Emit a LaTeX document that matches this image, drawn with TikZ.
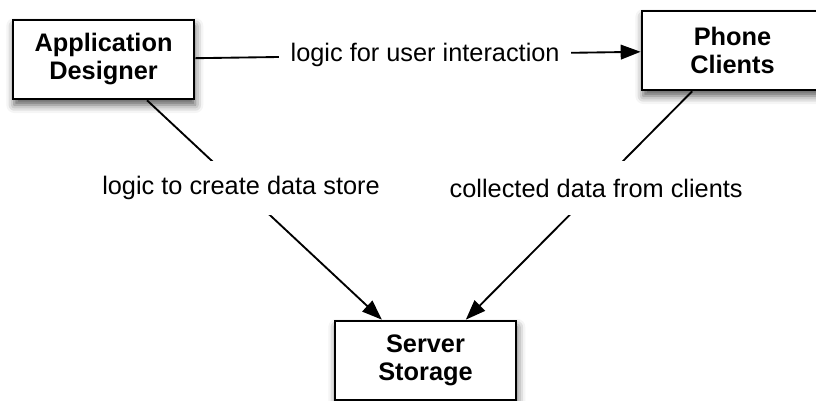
\documentclass[tikz,border=0pt]{standalone}
\usepackage{fontspec}
\setmainfont{Liberation Sans}
\usepackage{tikz}
\usetikzlibrary{arrows.meta,positioning,shadows.blur}
\tikzstyle{block} = [rectangle, draw, line width=2pt, fill=white, align=center, minimum width=135.75pt, minimum height=59.25pt, font=\fontsize{19}{21}\selectfont\bfseries, blur shadow={shadow xshift=1pt, shadow yshift=-4.5pt, shadow blur radius=6pt, shadow opacity=65}]
\tikzstyle{note} = [fill=white, text centered, inner xsep=8.5pt, minimum height=40pt, font=\fontsize{19}{21}\selectfont]
\tikzstyle{link} = [line width=1.4pt, -{Triangle[length=15pt,width=11pt]}]

\begin{document}
\begin{tikzpicture}
            \useasboundingbox (0,0) rectangle (612pt,-300pt);
            \node [block] (designer) at (77.625pt,-44.625pt) {Application\\Designer};
            \node [block, right=334pt of designer, yshift=6.75pt] (phone) {Phone\\Clients};
            \node [block, below right=164.5pt and 103.75pt of designer] (server) {Server\\Storage};

            \draw[link](designer) -- node[note, pos=0.516]{logic for user interaction}(phone);
            \draw[link](designer) -- node[note, pos=0.40]{logic to create data store}(server);
            \draw[link](phone) -- node[note, pos=0.424]{collected data from clients}(server);
        \end{tikzpicture}
\end{document}
